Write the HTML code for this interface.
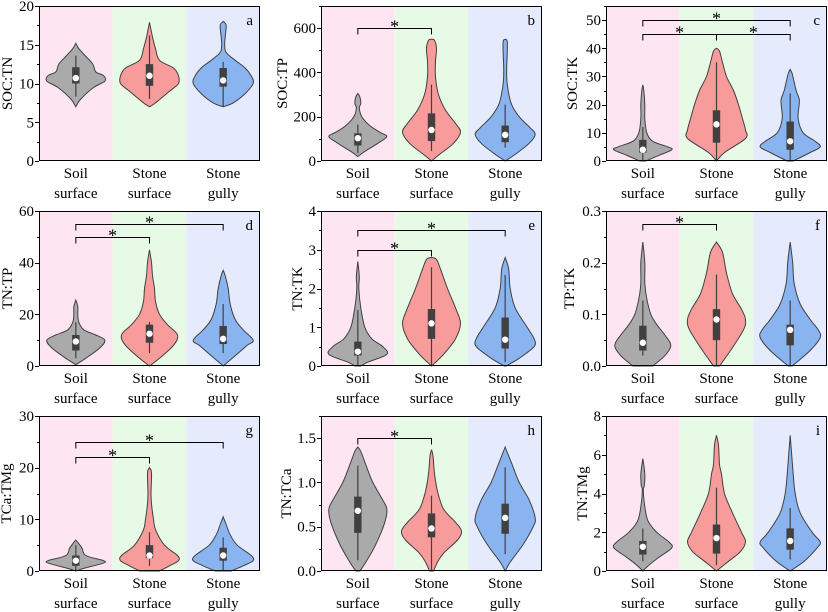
<!DOCTYPE html>
<html><head><meta charset="utf-8">
<style>
html,body{margin:0;padding:0;background:#fff;}
svg{display:block;}
text{font-family:"Liberation Serif",serif;fill:#000;}
</style></head>
<body>
<svg id="s" width="828" height="612" viewBox="0 0 828 612" xmlns="http://www.w3.org/2000/svg"></svg>
<script>
const S=document.getElementById('s');
let out='';
const W=221,H=155;
const cols=[39,321,606], rows=[6,211,416];
const bgs=['#fde6f1','#e6fae6','#e6eafd'];
const fills=['#aaaaaa','#f79b9b','#8ab4f0'];
const P=[
 {t:'SOC:TN',max:20,ticks:[0,5,10,15,20],lab:'a',tx:7,dec:0,
  v:[
   {p:[[7,0],[8,5],[9.5,18],[10.3,29],[11,28],[11.5,20],[12.5,17],[13.5,10],[14.5,3],[15.2,0]],b:[10,12.1],w:[8.3,13.6],m:10.7},
   {p:[[7,0],[7.5,6],[9,20],[10,29],[11,29],[12,24],[13,10],[14.5,6],[16,3],[17.9,0]],b:[9.7,12.5],w:[8,16.2],m:11},
   {p:[[7,0],[7.5,10],[8.7,22],[10,30],[11,28],[12,22],[13,12],[14,3],[15,1.5],[16,2],[17.5,3],[18,0]],b:[9.6,12],w:[7,12.8],m:10.4}],
  br:[]},
 {t:'SOC:TP',max:700,ticks:[0,200,400,600],lab:'b',tx:282,dec:0,
  v:[
   {p:[[20,0],[40,6],[80,20],[110,29],[130,22],[160,12],[200,4],[240,1.5],[260,3],[290,2],[305,0]],b:[70,125],w:[35,165],m:103},
   {p:[[0,0],[30,8],[80,22],[130,29],[170,24],[230,14],[300,7],[380,4],[450,4],[510,5],[545,3],[550,0]],b:[90,215],w:[45,345],m:140},
   {p:[[0,0],[30,10],[80,24],[120,30],[150,25],[200,14],[260,6],[350,2],[420,1.5],[480,2],[540,2],[550,0]],b:[85,160],w:[60,255],m:118}],
  br:[[0,1,600]]},
 {t:'SOC:TK',max:55,ticks:[0,10,20,30,40,50],lab:'c',tx:572,dec:0,
  v:[
   {p:[[0,3],[2,16],[4,29],[5,25],[7,10],[10,4],[15,2],[20,2],[25,1],[27,0]],b:[3,7.5],w:[0,12],m:4},
   {p:[[0,0],[3,8],[8,29],[11,29],[15,26],[20,22],[25,17],[30,10],[35,6],[39,3],[40,0]],b:[6.5,18],w:[0,35],m:13},
   {p:[[0,3],[3,20],[5,30],[7,25],[10,13],[15,8],[20,9],[22,9],[25,6],[28,4],[31,2],[32.5,0]],b:[4,14],w:[0,24],m:7}],
  br:[[0,2,50],[0,1,45],[1,2,45]]},
 {t:'TN:TP',max:60,ticks:[0,20,40,60],lab:'d',tx:7,dec:0,
  v:[
   {p:[[0.5,0],[3,10],[7,24],[10,29],[12,20],[14,8],[17,3],[20,2],[23,2],[25.5,0]],b:[6,12],w:[3,17],m:9.5},
   {p:[[0,0],[3,10],[8,24],[12,28],[16,18],[20,10],[25,6],[30,5],[35,3],[40,2],[45,0]],b:[9,16],w:[5,17],m:12.5},
   {p:[[0,0],[4,12],[8,24],[10,30],[14,20],[18,12],[24,7],[30,5],[35,2],[37,0]],b:[8.5,15.5],w:[5,24],m:10.5}],
  br:[[0,2,55],[0,1,50]]},
 {t:'TN:TK',max:4,ticks:[0,1,2,3,4],lab:'e',tx:297,dec:0,
  v:[
   {p:[[0,3],[0.1,10],[0.3,29],[0.5,25],[0.7,14],[1.0,7],[1.5,3],[2.0,1],[2.3,1.5],[2.7,0]],b:[0.27,0.63],w:[0,1.45],m:0.37},
   {p:[[0,0],[0.3,12],[0.7,24],[1.1,29],[1.5,24],[2.0,16],[2.5,9],[2.75,5],[2.8,0]],b:[0.7,1.47],w:[0,2.55],m:1.1},
   {p:[[0,1],[0.2,14],[0.5,29],[0.7,29],[1.0,22],[1.5,10],[2.0,5],[2.5,3.5],[2.8,0]],b:[0.45,1.25],w:[0.1,2.35],m:0.68}],
  br:[[0,2,3.5],[0,1,3.0]]},
 {t:'TP:TK',max:0.3,ticks:[0,0.1,0.2,0.3],lab:'f',tx:569,dec:1,
  v:[
   {p:[[0,10],[0.02,22],[0.04,28],[0.06,22],[0.08,14],[0.1,8],[0.13,4],[0.16,2],[0.2,2],[0.24,0]],b:[0.03,0.078],w:[0.02,0.127],m:0.045},
   {p:[[0,3],[0.03,14],[0.07,27],[0.09,29],[0.11,25],[0.14,16],[0.18,10],[0.22,6],[0.24,0]],b:[0.05,0.11],w:[0,0.177],m:0.09},
   {p:[[0,2],[0.03,20],[0.055,30],[0.07,28],[0.09,20],[0.12,10],[0.16,4],[0.2,2.5],[0.24,0]],b:[0.04,0.08],w:[0,0.127],m:0.07}],
  br:[[0,1,0.275]]},
 {t:'TCa:TMg',max:30,ticks:[0,10,20,30],lab:'g',tx:6,dec:0,
  v:[
   {p:[[0,0],[0.5,8],[1.5,27],[2,28],[3,10],[4.5,6],[6,0]],b:[1,3],w:[0,5],m:2},
   {p:[[0,10],[1,20],[2,29],[3,28],[5,15],[8,6],[10,4],[13,2],[15,1.5],[19,2],[20,0]],b:[2.5,5],w:[1,7.5],m:3},
   {p:[[0,8],[1,20],[2,30],[3,28],[5,14],[7,7],[9,3],[10.5,0]],b:[2,4.5],w:[0,6.5],m:3}],
  br:[[0,2,25],[0,1,22]]},
 {t:'TN:TCa',max:1.75,ticks:[0,0.5,1,1.5],lab:'h',tx:286,dec:1,
  v:[
   {p:[[0,2],[0.1,8],[0.3,18],[0.55,27],[0.7,29],[0.8,25],[1.0,15],[1.2,8],[1.35,3],[1.4,0]],b:[0.43,0.84],w:[0.12,1.19],m:0.68},
   {p:[[0,2],[0.1,6],[0.2,12],[0.35,26],[0.45,30],[0.55,24],[0.7,12],[0.9,6],[1.1,3],[1.3,1.5],[1.37,0]],b:[0.38,0.65],w:[0,0.85],m:0.48},
   {p:[[0,0],[0.1,5],[0.3,18],[0.5,28],[0.6,30],[0.8,24],[1.0,14],[1.2,7],[1.4,0]],b:[0.42,0.76],w:[0.19,1.17],m:0.6}],
  br:[[0,1,1.5]]},
 {t:'TN:TMg',max:8,ticks:[0,2,4,6,8],lab:'i',tx:582,dec:0,
  v:[
   {p:[[0,0],[0.3,6],[0.7,16],[1.2,29],[1.5,26],[2,14],[2.6,5],[3.5,1.5],[4.2,0.5],[4.4,1.5],[5,2],[5.8,0]],b:[0.85,1.55],w:[0.5,2.2],m:1.25},
   {p:[[0,0],[0.5,12],[1,24],[1.5,29],[2,25],[3,16],[4,8],[5,5],[5.5,3],[6.5,2],[7,0]],b:[0.9,2.4],w:[0.3,4.3],m:1.7},
   {p:[[0,0],[0.5,14],[1.2,27],[1.5,30],[2,22],[3,10],[4,5],[5,3],[6,1.5],[7,0]],b:[1.1,2.2],w:[0.6,3.25],m:1.55}],
  br:[]}
];
function cr(pts){
  let d='M'+pts[0][0].toFixed(1)+','+pts[0][1].toFixed(1);
  for(let i=0;i<pts.length-1;i++){
    const p0=pts[Math.max(0,i-1)],p1=pts[i],p2=pts[i+1],p3=pts[Math.min(pts.length-1,i+2)];
    const c1=[p1[0]+(p2[0]-p0[0])/6,p1[1]+(p2[1]-p0[1])/6];
    const c2=[p2[0]-(p3[0]-p1[0])/6,p2[1]-(p3[1]-p1[1])/6];
    d+=`C${c1[0].toFixed(1)},${c1[1].toFixed(1)} ${c2[0].toFixed(1)},${c2[1].toFixed(1)} ${p2[0].toFixed(1)},${p2[1].toFixed(1)}`;
  }
  return d;
}
P.forEach((pn,k)=>{
  const X=cols[k%3],Y=rows[Math.floor(k/3)];
  const sy=v=>Y+H-v/pn.max*H;
  const cw=W/3;
  for(let i=0;i<3;i++) out+=`<rect x="${X+i*cw}" y="${Y}" width="${cw}" height="${H}" fill="${bgs[i]}"/>`;
  pn.v.forEach((vi,i)=>{
    const cx=X+cw*(i+0.5);
    const right=vi.p.map(q=>[cx+q[1],sy(q[0])]);
    const left=vi.p.slice().reverse().map(q=>[cx-q[1],sy(q[0])]);
    let d=cr(right)+' L'+left[0][0].toFixed(1)+','+left[0][1].toFixed(1)+cr(left).replace(/^M[^C]*/,'')+'Z';
    out+=`<path d="${d}" fill="${fills[i]}" stroke="#404040" stroke-width="1"/>`;
    out+=`<line x1="${cx}" y1="${sy(vi.w[0])}" x2="${cx}" y2="${sy(vi.w[1])}" stroke="#404040" stroke-width="1.2"/>`;
    out+=`<rect x="${cx-3.7}" y="${sy(vi.b[1])}" width="7.4" height="${sy(vi.b[0])-sy(vi.b[1])}" fill="#404040"/>`;
    out+=`<circle cx="${cx}" cy="${sy(vi.m)}" r="3.2" fill="#fff"/>`;
  });
  pn.br.forEach(b=>{
    const x1=X+cw*(b[0]+0.5),x2=X+cw*(b[1]+0.5),y=Math.round(sy(b[2]))+0.5;
    out+=`<path d="M${x1},${y+6}V${y}H${x2}V${y+6}" fill="none" stroke="#000" stroke-width="1"/>`;
    out+=`<text x="${(x1+x2)/2}" y="${y+4}" font-size="18" text-anchor="middle">*</text>`;
  });
  out+=`<rect x="${X+0.5}" y="${Y+0.5}" width="${W-1}" height="${H-1}" fill="none" stroke="#000" stroke-width="1"/>`;
  const step=pn.ticks[1]-pn.ticks[0];
  for(let v=0;v<=pn.max+1e-9;v+=step/2){
    const y=Math.round(sy(v))+0.5;
    const maj=Math.abs(v/step-Math.round(v/step))<1e-6;
    out+=`<line x1="${X-(maj?4:2)}" y1="${y}" x2="${X}" y2="${y}" stroke="#000" stroke-width="1"/>`;
  }
  pn.ticks.forEach(v=>{
    out+=`<text x="${X-5}" y="${sy(v)+5}" font-size="15" text-anchor="end">${v.toFixed(pn.dec)}</text>`;
  });
  out+=`<text transform="translate(${pn.tx+5},${Y+H/2}) rotate(-90)" font-size="15" text-anchor="middle">${pn.t}</text>`;
  out+=`<text x="${X+W-7}" y="${Y+19}" font-size="15" text-anchor="end">${pn.lab}</text>`;
  const xl=[['Soil','surface'],['Stone','surface'],['Stone','gully']];
  xl.forEach((l,i)=>{
    const cx=X+cw*(i+0.5);
    out+=`<text x="${cx}" y="${Y+H+17}" font-size="15" text-anchor="middle">${l[0]}</text>`;
    out+=`<text x="${cx}" y="${Y+H+37}" font-size="15" text-anchor="middle">${l[1]}</text>`;
  });
});
S.innerHTML=out;
</script>
</body></html>
